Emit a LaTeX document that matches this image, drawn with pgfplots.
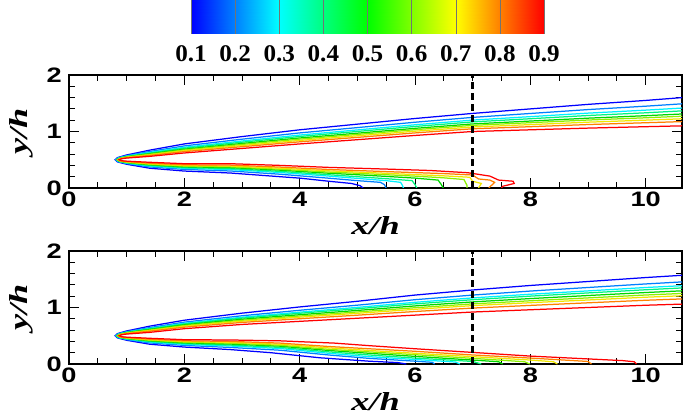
\documentclass[border=0pt]{standalone}
\usepackage{fontspec}
\setmainfont{Liberation Serif}
\newfontfamily\lsans{Liberation Sans}
\usepackage{graphicx}
\usepackage{pgfplots}
\pgfplotsset{compat=1.18}

% contour level colours, 0.1 ... 0.9
\definecolor{c1}{RGB}{0,0,255}
\definecolor{c2}{RGB}{0,128,255}
\definecolor{c3}{RGB}{0,240,255}
\definecolor{c4}{RGB}{0,245,128}
\definecolor{c5}{RGB}{0,215,0}
\definecolor{c6}{RGB}{140,240,0}
\definecolor{c7}{RGB}{240,230,0}
\definecolor{c8}{RGB}{255,128,0}
\definecolor{c9}{RGB}{255,0,0}

\newcommand{\tk}[1]{\scalebox{1.3}[1]{#1}}
\newcommand{\lab}[1]{\scalebox{1.4}[1]{\bfseries\itshape #1}}
\newcommand{\cb}[1]{\scalebox{1.05}[1]{#1}}

\pgfplotsset{
  panel/.style={
    scale only axis, width=613bp, height=113bp, anchor=south west,
    xmin=0, xmax=10.63, ymin=0, ymax=2,
    xtick={0,2,4,6,8,10},
    xticklabels={\tk{0},\tk{2},\tk{4},\tk{6},\tk{8},\tk{10}},
    ytick={0,1,2}, yticklabels={\tk{0},\tk{1},\tk{2}},
    minor x tick num=3, minor y tick num=4,
    tick align=inside,
    major tick length=10bp, minor tick length=6bp,
    every tick/.style={black, line width=1pt},
    axis line style={line width=1.6pt},
    tick label style={font=\lsans\bfseries\fontsize{21}{21}\selectfont, inner sep=0pt},
    xticklabel style={yshift=-4bp},
    yticklabel style={xshift=-7bp},
    xlabel={\lab{x/h}}, ylabel={\lab{y/h}},
    label style={font=\fontsize{26}{26}\selectfont, inner sep=0pt},
    xlabel style={at={(axis description cs:0.5,-0.415)}, anchor=base},
    ylabel style={at={(axis description cs:-0.077,0.5)}, anchor=center},
    every axis plot/.append style={line width=1.25pt},
  },
}

\begin{document}
\begin{tikzpicture}
\path[use as bounding box] (0,0) rectangle (685bp,416bp);

% colour bar
\begin{axis}[
  at={(191bp,382bp)}, anchor=south west,
  scale only axis, width=353bp, height=34bp,
  view={0}{90},
  xmin=0.1, xmax=0.9, ymin=0, ymax=1, zmin=-1, zmax=1,
  axis line style={draw=none},
  ytick=\empty, ztick=\empty,
  xtick={0.1,0.2,0.3,0.4,0.5,0.6,0.7,0.8,0.9},
  xticklabels={\cb{0.1},\cb{0.2},\cb{0.3},\cb{0.4},\cb{0.5},\cb{0.6},\cb{0.7},\cb{0.8},\cb{0.9}},
  major tick length=0pt,
  xmajorgrids, grid style={black!55, line width=0.4pt},
  axis on top,
  colormap={cbjet}{rgb255=(0,0,255) rgb255=(0,128,255) rgb255=(0,255,255)
    rgb255=(0,255,128) rgb255=(0,255,0) rgb255=(128,255,0) rgb255=(255,255,0)
    rgb255=(255,128,0) rgb255=(255,0,0)},
  point meta min=0.1, point meta max=0.9,
  xticklabel style={font=\bfseries\fontsize{24}{24}\selectfont, inner sep=0pt, yshift=-11bp},
]
\addplot3[surf, shader=interp, point meta=x, mesh/cols=9] coordinates {
  (0.1,0,0) (0.2,0,0) (0.3,0,0) (0.4,0,0) (0.5,0,0) (0.6,0,0) (0.7,0,0) (0.8,0,0) (0.9,0,0)
  (0.1,1,0) (0.2,1,0) (0.3,1,0) (0.4,1,0) (0.5,1,0) (0.6,1,0) (0.7,1,0) (0.8,1,0) (0.9,1,0)
};
\end{axis}

% upper panel
\begin{axis}[panel, at={(69bp,228bp)}]
\addplot[c1] coordinates {(10.63,1.60)(10,1.55)(9,1.48)(8,1.40)(7,1.32)(6,1.23)(5,1.13)(4,1.03)(3,0.91)(2,0.78)(1.4,0.67)(1.0,0.585)(0.84,0.538)(0.80,0.5)
  (0.84,0.462)(1.0,0.42)(1.4,0.35)(2.0,0.30)(2.8,0.265)(3.66,0.20)(4.0,0.175)(4.5,0.12)(4.9,0.08)(5.05,0.04)(5.1,0)};
\addplot[c2] coordinates {(10.63,1.49)(10,1.448)(9,1.388)(8,1.319)(7,1.25)(6,1.164)(5,1.069)(4,0.975)(3,0.864)(2,0.745)(1.4,0.646)(1.0,0.573)(0.85,0.534)(0.81,0.5)
  (0.85,0.466)(1.0,0.432)(1.4,0.373)(2.0,0.329)(2.8,0.301)(3.66,0.244)(4.5,0.174)(5.0,0.13)(5.4,0.10)(5.47,0.06)(5.5,0)};
\addplot[c3] coordinates {(10.63,1.415)(10,1.378)(9,1.325)(8,1.263)(7,1.202)(6,1.119)(5,1.028)(4,0.937)(3,0.832)(2,0.721)(1.4,0.629)(1.0,0.565)(0.86,0.531)(0.82,0.5)
  (0.86,0.469)(1.0,0.44)(1.4,0.389)(2.0,0.348)(2.8,0.326)(3.66,0.274)(4.5,0.211)(5.0,0.17)(5.5,0.13)(5.75,0.10)(5.78,0.05)(5.8,0)};
\addplot[c4] coordinates {(10.63,1.365)(10,1.331)(9,1.283)(8,1.226)(7,1.17)(6,1.089)(5,1.001)(4,0.912)(3,0.811)(2,0.705)(1.4,0.618)(1.0,0.559)(0.87,0.529)(0.83,0.5)
  (0.87,0.471)(1.0,0.446)(1.4,0.399)(2.0,0.361)(2.8,0.343)(3.66,0.294)(4.5,0.235)(5.0,0.20)(5.5,0.165)(5.95,0.13)(6.0,0.06)(6.03,0)};
\addplot[c5] coordinates {(10.63,1.31)(10,1.28)(9,1.236)(8,1.185)(7,1.134)(6,1.056)(5,0.97)(4,0.885)(3,0.788)(2,0.687)(1.4,0.606)(1.0,0.553)(0.875,0.526)(0.835,0.5)
  (0.875,0.474)(1.0,0.452)(1.4,0.411)(2.0,0.375)(2.8,0.361)(3.66,0.316)(4.5,0.262)(5.0,0.235)(5.5,0.205)(6.0,0.175)(6.4,0.14)(6.45,0.07)(6.49,0)};
\addplot[c6] coordinates {(10.63,1.27)(10,1.243)(9,1.203)(8,1.156)(7,1.109)(6,1.032)(5,0.948)(4,0.865)(3,0.771)(2,0.674)(1.4,0.597)(1.0,0.549)(0.88,0.525)(0.84,0.5)
  (0.88,0.475)(1.0,0.456)(1.4,0.419)(2.0,0.386)(2.8,0.374)(3.66,0.332)(4.5,0.282)(5.0,0.26)(5.5,0.235)(6.0,0.21)(6.5,0.18)(6.85,0.15)(6.9,0.05)(6.9,0)};
\addplot[c7] coordinates {(10.63,1.225)(10,1.201)(9,1.165)(8,1.122)(7,1.08)(6,1.005)(5,0.924)(4,0.842)(3,0.752)(2,0.66)(1.4,0.587)(1.0,0.544)(0.89,0.523)(0.85,0.5)
  (0.89,0.477)(1.0,0.461)(1.4,0.429)(2.0,0.398)(2.8,0.389)(3.66,0.35)(4.5,0.304)(5.5,0.26)(6.5,0.215)(6.95,0.19)(7.0,0.12)(7.15,0.08)(7.1,0)};
\addplot[c8] coordinates {(10.63,1.175)(10,1.155)(9,1.123)(8,1.085)(7,1.048)(6,0.975)(5,0.896)(4,0.817)(3,0.731)(2,0.644)(1.4,0.576)(1.0,0.538)(0.90,0.52)(0.86,0.5)
  (0.90,0.48)(1.0,0.467)(1.4,0.439)(2.0,0.411)(2.8,0.405)(3.66,0.37)(4.5,0.328)(5.5,0.29)(6.5,0.255)(7.0,0.23)(7.1,0.16)(7.3,0.14)(7.38,0.10)(7.3,0.02)(7.28,0)};
\addplot[c9] coordinates {(10.63,1.10)(10,1.085)(9,1.06)(8,1.03)(7,1.0)(6,0.93)(5,0.855)(4,0.78)(3,0.70)(2,0.62)(1.4,0.56)(1.0,0.53)(0.91,0.517)(0.87,0.5)
  (0.91,0.483)(1.0,0.475)(1.4,0.455)(2.0,0.43)(2.8,0.43)(3.66,0.40)(4.5,0.365)(5.5,0.335)(6.26,0.31)(6.92,0.27)(7.3,0.21)(7.45,0.14)(7.7,0.12)(7.72,0.08)(7.52,0.03)(7.5,0)};
\addplot[black, line width=2.8pt, dash pattern=on 7bp off 4bp] coordinates {(7,0) (7,2)};
\end{axis}

% lower panel
\begin{axis}[panel, at={(69bp,52bp)}]
\addplot[c1] coordinates {(10.63,1.57)(10,1.53)(9,1.46)(8,1.39)(7,1.31)(6,1.22)(5,1.11)(4,1.01)(3,0.90)(2,0.775)(1.4,0.67)(1.0,0.585)(0.84,0.538)(0.80,0.5)
  (0.84,0.462)(1.0,0.42)(1.4,0.35)(2.0,0.30)(2.8,0.255)(3.5,0.20)(4.35,0.11)(5.2,0.05)(5.7,0.025)(5.85,0)};
\addplot[c2] coordinates {(10.63,1.453)(10,1.417)(9,1.354)(8,1.291)(7,1.22)(6,1.138)(5,1.041)(4,0.951)(3,0.854)(2,0.741)(1.4,0.645)(1.0,0.572)(0.85,0.534)(0.81,0.5)
  (0.85,0.466)(1.0,0.432)(1.4,0.373)(2.0,0.329)(2.8,0.293)(3.66,0.244)(4.5,0.16)(5.2,0.10)(6.0,0.05)(6.3,0.03)(6.34,0)};
\addplot[c3] coordinates {(10.63,1.386)(10,1.354)(9,1.294)(8,1.235)(7,1.17)(6,1.092)(5,1.002)(4,0.918)(3,0.828)(2,0.721)(1.4,0.63)(1.0,0.565)(0.86,0.531)(0.82,0.5)
  (0.86,0.469)(1.0,0.44)(1.4,0.389)(2.0,0.348)(2.8,0.318)(3.66,0.274)(4.5,0.19)(5.2,0.13)(6.0,0.08)(6.7,0.035)(6.78,0)};
\addplot[c4] coordinates {(10.63,1.346)(10,1.314)(9,1.258)(8,1.201)(7,1.138)(6,1.064)(5,0.978)(4,0.898)(3,0.812)(2,0.709)(1.4,0.622)(1.0,0.561)(0.87,0.529)(0.83,0.5)
  (0.87,0.471)(1.0,0.446)(1.4,0.399)(2.0,0.361)(2.8,0.335)(3.66,0.294)(4.5,0.215)(5.2,0.16)(6.0,0.105)(7.0,0.045)(7.15,0)};
\addplot[c5] coordinates {(10.63,1.295)(10,1.265)(9,1.212)(8,1.158)(7,1.099)(6,1.028)(5,0.948)(4,0.872)(3,0.792)(2,0.694)(1.4,0.611)(1.0,0.555)(0.875,0.526)(0.835,0.5)
  (0.875,0.474)(1.0,0.452)(1.4,0.411)(2.0,0.375)(2.8,0.353)(3.66,0.316)(4.5,0.24)(5.2,0.19)(6.0,0.135)(7.0,0.07)(7.45,0.04)(7.52,0)};
\addplot[c6] coordinates {(10.63,1.249)(10,1.221)(9,1.17)(8,1.119)(7,1.064)(6,0.996)(5,0.921)(4,0.849)(3,0.774)(2,0.681)(1.4,0.601)(1.0,0.55)(0.88,0.525)(0.84,0.5)
  (0.88,0.475)(1.0,0.456)(1.4,0.419)(2.0,0.386)(2.8,0.368)(3.66,0.332)(4.5,0.26)(5.2,0.215)(6.0,0.165)(7.0,0.10)(7.9,0.04)(7.99,0)};
\addplot[c7] coordinates {(10.63,1.208)(10,1.182)(9,1.133)(8,1.085)(7,1.033)(6,0.968)(5,0.897)(4,0.829)(3,0.758)(2,0.669)(1.4,0.592)(1.0,0.546)(0.89,0.523)(0.85,0.5)
  (0.89,0.477)(1.0,0.461)(1.4,0.429)(2.0,0.398)(2.8,0.383)(3.66,0.35)(4.5,0.285)(5.2,0.24)(6.0,0.19)(7.0,0.13)(8.0,0.07)(8.4,0.04)(8.47,0)};
\addplot[c8] coordinates {(10.63,1.152)(10,1.128)(9,1.083)(8,1.037)(7,0.99)(6,0.929)(5,0.864)(4,0.801)(3,0.736)(2,0.652)(1.4,0.58)(1.0,0.54)(0.90,0.52)(0.86,0.5)
  (0.90,0.48)(1.0,0.467)(1.4,0.439)(2.0,0.411)(2.8,0.40)(3.66,0.37)(4.5,0.31)(5.2,0.27)(6.0,0.225)(7.0,0.16)(8.0,0.105)(9.0,0.045)(9.06,0)};
\addplot[c9] coordinates {(10.63,1.06)(10,1.04)(9,1.0)(8,0.96)(7,0.92)(6,0.865)(5,0.81)(4,0.755)(3,0.70)(2,0.625)(1.4,0.56)(1.0,0.53)(0.91,0.517)(0.87,0.5)
  (0.91,0.483)(1.0,0.475)(1.4,0.455)(2.0,0.43)(2.8,0.425)(3.66,0.41)(4.0,0.395)(4.6,0.37)(5.2,0.325)(6.0,0.27)(7.0,0.205)(8.0,0.14)(9.0,0.09)(9.6,0.06)(9.8,0.04)(9.84,0)};
\addplot[black, line width=2.8pt, dash pattern=on 7bp off 4bp] coordinates {(7,0) (7,2)};
\end{axis}
\end{tikzpicture}
\end{document}
